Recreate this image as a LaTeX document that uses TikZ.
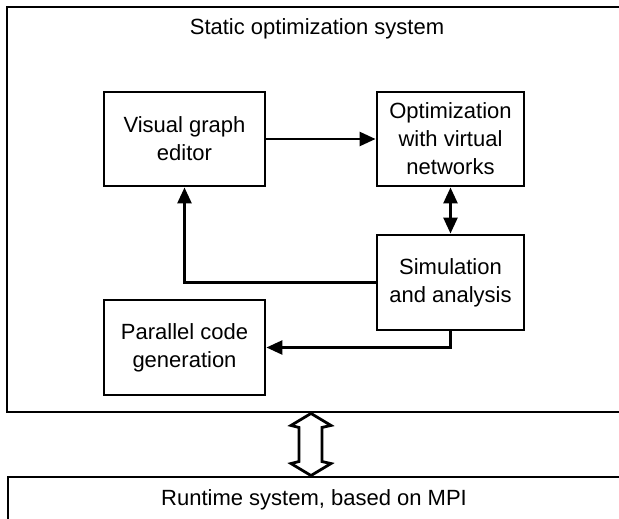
\documentclass[tikz,border=0pt]{standalone}
\usepackage{fontspec}
\setmainfont{Liberation Sans}
\usetikzlibrary{arrows.meta,calc}
\begin{document}
\begin{tikzpicture}[x=1pt,y=-1pt,
  txt/.style={font=\fontsize{22}{28}\selectfont, align=center, inner sep=0pt},
  box/.style={draw=black, line width=2.9pt, fill=white, inner sep=0pt},
  conn/.style={draw=black, line width=2.6pt, -{Triangle[length=16pt,width=14pt]}},
  biconn/.style={draw=black, line width=2.6pt, {Triangle[length=16pt,width=14pt]}-{Triangle[length=16pt,width=14pt]}},
  hollow/.style={draw=black, line width=2.8pt, fill=white, line join=miter}]
\useasboundingbox (0,0) rectangle (619,519);
\clip (0,0) rectangle (619,519);
\fill[white] (0,0) rectangle (619,519);
% outer boxes
\node[box, minimum width=643pt, minimum height=405pt] (static) at (328.5,209.5) {};
\node[txt] (statictitle) at (317,29) {Static optimization system};
\node[box, minimum width=642pt, minimum height=84pt] (runtime) at (329,519) {};
\node[txt] (runtimetitle) at (314,500) {Runtime system, based on MPI};
% inner boxes
\node[box, minimum width=161pt, minimum height=94pt] (vge) at (184.5,139) {};
\node[txt] (vgetxt) at (vge.center) {Visual graph\\editor};
\node[box, minimum width=147pt, minimum height=94pt] (opt) at (450.5,139) {};
\node[txt] (opttxt) at (opt.center) {Optimization\\with virtual\\networks};
\node[box, minimum width=147pt, minimum height=95pt] (sim) at (450.5,282.5) {};
\node[txt] (simtxt) at (sim.center) {Simulation\\and analysis};
\node[box, minimum width=161pt, minimum height=95pt] (par) at (184.5,347.5) {};
\node[txt] (partxt) at (par.center) {Parallel code\\generation};
% connectors
\draw[conn] (vge.east) -- (opt.west);
\draw[biconn] (opt.south) -- (sim.north);
\draw[conn] (sim.west) -| (vge.south);
\draw[conn] (sim.south) |- (par.east);
% hollow double arrow between systems
\coordinate (a) at (static.south -| 311,0);
\coordinate (b) at (runtime.north -| 311,0);
\draw[hollow] (a) -- ($(a)+(20,12)$) -- ($(a)+(11,14)$) -- ($(b)+(11,-14)$)
  -- ($(b)+(20,-12)$) -- (b) -- ($(b)+(-20,-12)$) -- ($(b)+(-12,-14)$)
  -- ($(a)+(-12,14)$) -- ($(a)+(-20,12)$) -- cycle;
\end{tikzpicture}
\end{document}
